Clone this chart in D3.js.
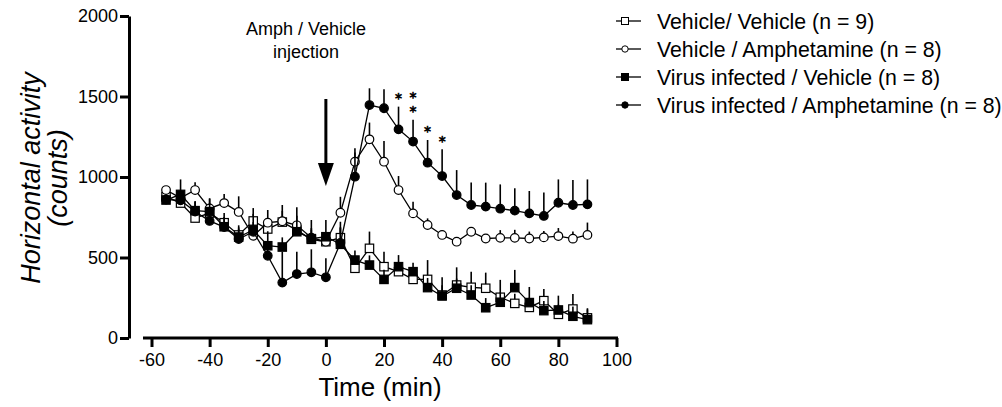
<!DOCTYPE html>
<html>
<head>
<meta charset="utf-8">
<script src="https://cdnjs.cloudflare.com/ajax/libs/d3/7.8.5/d3.min.js"></script>
<style>
body { margin: 0; background: #fff; }
svg { display: block; font-family: "Liberation Sans", Arial, sans-serif; }
</style>
</head>
<body>
<svg width="1002" height="407"></svg>
<script>
// time points (min), every 5 min
var times = [-55, -50, -45, -40, -35, -30, -25, -20, -15, -10, -5, 0, 5, 10, 15,
             20, 25, 30, 35, 40, 45, 50, 55, 60, 65, 70, 75, 80, 85, 90];

// Vehicle / Vehicle (open squares)
var vehVeh    = [878, 838, 745, 776, 716, 640, 727, 677, 720, 670, 613, 598, 623, 433, 557,
                 443, 412, 364, 364, 267, 329, 315, 309, 253, 215, 190, 232, 147, 180, 125];
var vehVehErr = [30, 50, 50, 60, 60, 60, 80, 60, 70, 60, 60, 50, 60, 60, 104,
                 93, 60, 50, 120, 60, 110, 97, 97, 108, 60, 60, 72, 60, 93, 60];

// Vehicle / Amphetamine (open circles)
var vehAmph    = [919, 870, 919, 805, 838, 783, 635, 716, 725, 700, 623, 598, 778, 1095, 1234,
                  1095, 919, 774, 702, 640, 598, 660, 618, 622, 622, 618, 625, 633, 617, 640];
var vehAmphErr = [20, 30, 48, 60, 56, 97, 50, 79, 101, 112, 60, 60, 99, 83, 104,
                  128, 87, 72, 41, 30, 20, 20, 20, 48, 50, 43, 40, 50, 45, 77];

// Virus infected / Vehicle (filled squares)
var virVeh    = [857, 892, 791, 785, 691, 627, 671, 573, 565, 660, 617, 629, 582, 484, 453,
                 364, 443, 412, 313, 261, 309, 267, 188, 222, 313, 220, 170, 174, 135, 114];
var virVehErr = [30, 93, 60, 83, 60, 60, 100, 90, 60, 100, 116, 104, 140, 60, 60,
                 60, 72, 56, 60, 116, 60, 60, 60, 60, 110, 97, 60, 89, 60, 64];

// Virus infected / Amphetamine (filled circles)
var virAmph    = [860, 855, 785, 727, 689, 615, 660, 511, 344, 397, 408, 377, 590, 1002, 1447,
                  1427, 1296, 1220, 1089, 1006, 888, 826, 816, 803, 791, 774, 758, 840, 826, 830];
var virAmphErr = [30, 40, 60, 60, 60, 60, 60, 80, 192, 138, 143, 118, 100, 150, 104,
                  118, 141, 135, 141, 166, 155, 140, 149, 151, 139, 139, 145, 145, 155, 155];

// significance stars above the virus/amphetamine curve
var starTimes = [25, 30, 30, 35, 40];
var starLevel = [0, 0, 1, 0, 0];

var xTicks = [-60, -40, -20, 0, 20, 40, 60, 80, 100];
var yTicks = [0, 500, 1000, 1500, 2000];

var legendNames = ["Vehicle/ Vehicle (n = 9)", "Vehicle / Amphetamine (n = 8)",
                   "Virus infected / Vehicle (n = 8)", "Virus infected / Amphetamine (n = 8)"];

var injectionTime = 0;

var series = [
    { name: legendNames[0], values: vehVeh,  err: vehVehErr,  shape: "square", fill: "#fff" },
    { name: legendNames[1], values: vehAmph, err: vehAmphErr, shape: "circle", fill: "#fff" },
    { name: legendNames[2], values: virVeh,  err: virVehErr,  shape: "square", fill: "#000" },
    { name: legendNames[3], values: virAmph, err: virAmphErr, shape: "circle", fill: "#000" }
];

var svg = d3.select("svg");

var x = d3.scaleLinear().domain([-60, 100]).range([151.5, 616.5]);
var y = d3.scaleLinear().domain([0, 2000]).range([338, 16]);

var plain = function (d) { return String(d); };

// Y axis
var yAxis = svg.append("g")
    .attr("transform", "translate(129,0)")
    .call(d3.axisLeft(y).tickValues(yTicks).tickFormat(plain)
        .tickSize(9).tickPadding(2).tickSizeOuter(0));
yAxis.select(".domain").attr("stroke-width", 3);
yAxis.selectAll(".tick line").attr("stroke-width", 3);
yAxis.selectAll(".tick text").attr("font-size", 18).attr("font-family", "Liberation Sans, Arial, sans-serif");

// X axis (detached from Y axis, like the original)
var xAxis = svg.append("g")
    .attr("transform", "translate(0," + y(0) + ")")
    .call(d3.axisBottom(x).tickValues(xTicks).tickFormat(plain)
        .tickSize(9).tickPadding(6).tickSizeOuter(0));
xAxis.select(".domain")
    .attr("d", "M" + (x(-60) - 8.5) + ",0H" + (x(100) + 1.5))
    .attr("stroke-width", 3);
xAxis.selectAll(".tick line").attr("stroke-width", 3);
xAxis.selectAll(".tick text").attr("font-size", 18).attr("font-family", "Liberation Sans, Arial, sans-serif");

// axis titles
svg.append("text")
    .attr("transform", "translate(40,178) rotate(-90)")
    .attr("text-anchor", "middle")
    .attr("font-size", 27)
    .attr("font-style", "italic")
    .text("Horizontal activity");
svg.append("text")
    .attr("transform", "translate(67,178) rotate(-90)")
    .attr("text-anchor", "middle")
    .attr("font-size", 27)
    .attr("font-style", "italic")
    .text("(counts)");
svg.append("text")
    .attr("x", 380)
    .attr("y", 396)
    .attr("text-anchor", "middle")
    .attr("font-size", 26)
    .text("Time (min)");

// series
var line = d3.line()
    .x(function (d) { return x(d.t); })
    .y(function (d) { return y(d.v); });

series.forEach(function (s) {
    var pts = times.map(function (t, i) { return { t: t, v: s.values[i], e: s.err[i] }; });
    var g = svg.append("g");

    g.selectAll(".err")
        .data(pts)
        .enter().append("line")
        .attr("x1", d => x(d.t)).attr("x2", d => x(d.t))
        .attr("y1", d => y(d.v)).attr("y2", d => y(d.v + d.e))
        .attr("stroke", "#000")
        .attr("stroke-width", 1.6);

    g.append("path")
        .datum(pts)
        .attr("d", line)
        .attr("fill", "none")
        .attr("stroke", "#000")
        .attr("stroke-width", 1.3);

    if (s.shape == "circle") {
        g.selectAll(".pt")
            .data(pts)
            .enter().append("circle")
            .attr("cx", d => x(d.t))
            .attr("cy", d => y(d.v))
            .attr("r", 4.3)
            .attr("fill", s.fill)
            .attr("stroke", "#000")
            .attr("stroke-width", 1.2);
    } else {
        g.selectAll(".pt")
            .data(pts)
            .enter().append("rect")
            .attr("x", d => x(d.t) - 4.2)
            .attr("y", d => y(d.v) - 4.2)
            .attr("width", 8.4)
            .attr("height", 8.4)
            .attr("fill", s.fill)
            .attr("stroke", "#000")
            .attr("stroke-width", 1.2);
    }
});

// stars (small font so stacked ones fit 14px apart, stroked to look heavier)
svg.selectAll(".star")
    .data(starTimes)
    .enter().append("text")
    .attr("class", "star")
    .attr("x", d => x(d))
    .attr("y", function (d, i) {
        var k = times.indexOf(d);
        return y(virAmph[k] + virAmphErr[k]) - 3.5 - starLevel[i] * 14;
    })
    .attr("text-anchor", "middle")
    .attr("font-family", "DejaVu Sans, sans-serif")
    .attr("font-size", 14)
    .attr("fill", "#000")
    .attr("stroke", "#000")
    .attr("stroke-width", 0.6)
    .text("*");

// injection arrow
var ax = x(injectionTime);
svg.append("line")
    .attr("x1", ax).attr("x2", ax)
    .attr("y1", 99).attr("y2", 166)
    .attr("stroke", "#000")
    .attr("stroke-width", 3);
svg.append("path")
    .attr("d", "M" + (ax - 8) + ",163L" + (ax + 8) + ",163L" + ax + ",186Z")
    .attr("fill", "#000");
svg.append("text")
    .attr("x", 306).attr("y", 35)
    .attr("text-anchor", "middle")
    .attr("font-size", 18)
    .text("Amph / Vehicle");
svg.append("text")
    .attr("x", 306).attr("y", 58)
    .attr("text-anchor", "middle")
    .attr("font-size", 18)
    .text("injection");

// legend
var legend = svg.append("g");
var rows = legend.selectAll(".row")
    .data(series)
    .enter().append("g")
    .attr("transform", (d, i) => "translate(0," + (21 + i * 28) + ")");
rows.append("line")
    .attr("x1", 616).attr("x2", 641)
    .attr("stroke", "#000").attr("stroke-width", 1.3);
rows.each(function (s) {
    var r = d3.select(this);
    if (s.shape == "circle") {
        r.append("circle").attr("cx", 625).attr("r", 3.2)
            .attr("fill", s.fill).attr("stroke", "#000").attr("stroke-width", 1);
    } else {
        r.append("rect").attr("x", 621.5).attr("y", -3.5).attr("width", 7).attr("height", 7)
            .attr("fill", s.fill).attr("stroke", "#000").attr("stroke-width", 1);
    }
});
rows.append("text")
    .attr("x", 657)
    .attr("y", 7.5)
    .attr("font-size", 21.3)
    .text(d => d.name);
</script>
</body>
</html>
